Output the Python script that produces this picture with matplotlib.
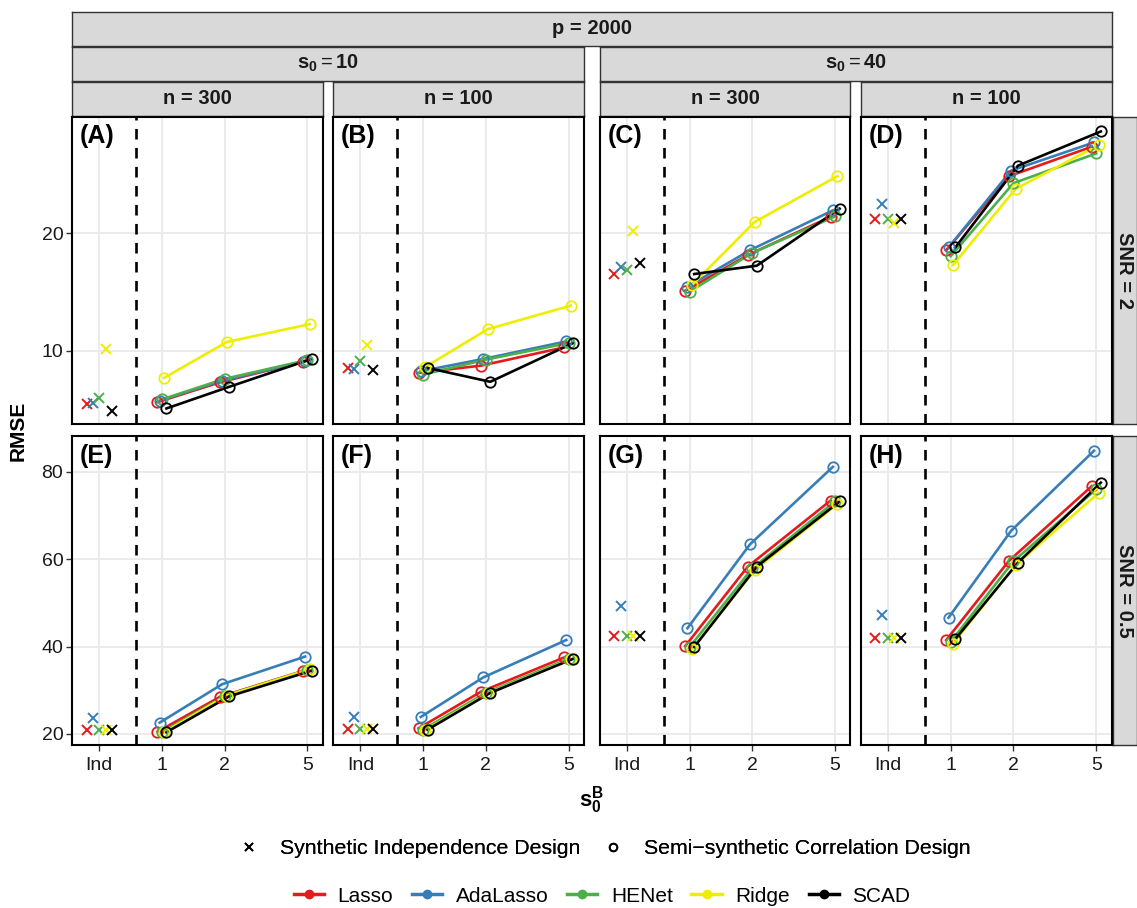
import numpy as np
import matplotlib
matplotlib.use('Agg')
import matplotlib.pyplot as plt
from matplotlib.lines import Line2D
from matplotlib.ticker import NullLocator

plt.rcParams['font.family'] = ['Liberation Sans', 'DejaVu Sans']
plt.rcParams['mathtext.fontset'] = 'custom'
plt.rcParams['mathtext.rm'] = 'Liberation Sans'
plt.rcParams['mathtext.bf'] = 'Liberation Sans:bold'
plt.rcParams['mathtext.it'] = 'Liberation Sans:italic'

# ---------------- data ----------------
methods = ['Lasso', 'AdaLasso', 'HENet', 'Ridge', 'SCAD']
colors = ['#E41A1C', '#377EB8', '#4DAF4A', '#EEEE00', '#000000']
ind_level = 0.5
s0B_levels = [1, 2, 5]
x_tick_labels = ['Ind', '1', '2', '5']
panel_labels = ['(A)', '(B)', '(C)', '(D)', '(E)', '(F)', '(G)', '(H)']
n_labels = ['n = 300', 'n = 100', 'n = 300', 'n = 100']
s0_labels = [r'$\mathbf{s_0} = \mathbf{10}$', r'$\mathbf{s_0} = \mathbf{40}$']
snr_labels = ['SNR = 2', 'SNR = 0.5']
p_label = 'p = 2000'

# Synthetic Independence Design (one value per method, order as `methods`)
ind_A = [5.42, 5.57, 6.00, 10.14, 4.86]
ind_B = [8.53, 8.45, 9.10, 10.48, 8.33]
ind_C = [16.5, 17.15, 16.9, 20.2, 17.5]
ind_D = [21.19, 22.46, 21.19, 20.87, 21.19]
ind_E = [20.9, 23.7, 20.9, 20.9, 20.9]
ind_F = [21.1, 23.96, 21.1, 21.1, 21.1]
ind_G = [42.5, 49.3, 42.5, 42.5, 42.5]
ind_H = [41.9, 47.2, 41.9, 41.9, 41.9]

# Semi-synthetic Correlation Design (per method: values at s0B = 1, 2, 5)
corr_A = [[5.62, 7.31, 9.05], [5.75, 7.45, 9.10], [5.85, 7.60, 9.20],
          [7.69, 10.74, 12.26], [5.08, 6.92, 9.30]]
corr_B = [[8.11, 8.73, 10.28], [8.25, 9.30, 10.79], [7.97, 9.24, 10.65],
          [8.62, 11.84, 13.84], [8.53, 7.35, 10.65]]
corr_C = [[15.1, 18.14, 21.4], [15.45, 18.56, 21.95], [15.03, 18.33, 21.44],
          [15.6, 20.96, 24.86], [16.53, 17.24, 22.09]]
corr_D = [[18.56, 24.86, 27.37], [18.79, 25.34, 27.74], [18.05, 24.27, 26.8],
          [17.29, 23.79, 27.5], [18.79, 25.76, 28.67]]
corr_E = [[20.5, 28.5, 34.4], [22.6, 31.4, 37.7], [20.4, 28.7, 34.6],
          [20.4, 28.8, 34.8], [20.4, 28.6, 34.5]]
corr_F = [[21.3, 29.7, 37.5], [23.9, 32.97, 41.5], [21.0, 29.4, 37.2],
          [20.9, 29.3, 37.1], [21.0, 29.4, 37.2]]
corr_G = [[40.1, 58.3, 73.4], [44.2, 63.4, 81.1], [39.9, 57.9, 73.2],
          [39.4, 57.5, 72.6], [39.9, 58.3, 73.2]]
corr_H = [[41.5, 59.6, 76.7], [46.6, 66.5, 84.8], [41.1, 59.5, 76.0],
          [40.7, 58.7, 75.1], [41.7, 59.2, 77.5]]

ind_all = [ind_A, ind_B, ind_C, ind_D, ind_E, ind_F, ind_G, ind_H]
corr_all = [corr_A, corr_B, corr_C, corr_D, corr_E, corr_F, corr_G, corr_H]

# ---------------- layout ----------------
W, H = 1137, 908
fig = plt.figure(figsize=(W / 100, H / 100), dpi=100)


def box(x0, y0, x1, y1):
    return [x0 / W, 1 - y1 / H, (x1 - x0) / W, (y1 - y0) / H]


col_x = [(72.3, 322.7), (333.3, 584.0), (600.0, 850.5), (861.0, 1111.7)]
row_y = [(116.7, 424.3), (436.0, 745.0)]
row_ylim = [(3.73, 29.93), (17.48, 88.17)]
row_yticks = [[10, 20], [20, 40, 60, 80]]
xlim = (0.3705, 5.93)
vline_x = 0.75
cross_step = 0.07
circle_step = 0.025

STRIP_FC = '#D9D9D9'
STRIP_EC = '#333333'
GRID_C = '#EBEBEB'


def strip(x0, y0, x1, y1, label, rotation=0, size=14.5):
    sa = fig.add_axes(box(x0, y0, x1, y1))
    sa.set_facecolor(STRIP_FC)
    sa.set_xticks([])
    sa.set_yticks([])
    for sp in sa.spines.values():
        sp.set_color(STRIP_EC)
        sp.set_linewidth(1.0)
    sa.text(0.5, 0.5, label, transform=sa.transAxes, ha='center', va='center',
            fontsize=size, fontweight='bold', rotation=rotation, color='#1A1A1A')
    return sa


strip(col_x[0][0], 12, col_x[3][1], 45.7, p_label)
strip(col_x[0][0], 46.7, col_x[1][1], 80.7, s0_labels[0])
strip(col_x[2][0], 46.7, col_x[3][1], 80.7, s0_labels[1])
for c in range(4):
    strip(col_x[c][0], 81.7, col_x[c][1], 116.0, n_labels[c])
for r in range(2):
    strip(1113.3, row_y[r][0], 1136.5, row_y[r][1], snr_labels[r], rotation=-90)

offs = np.arange(-2, 3)
for r in range(2):
    for c in range(4):
        k = r * 4 + c
        ax = fig.add_axes(box(col_x[c][0], row_y[r][0], col_x[c][1], row_y[r][1]))
        ax.set_xscale('log')
        ax.set_xlim(*xlim)
        ax.set_ylim(*row_ylim[r])
        ax.xaxis.set_minor_locator(NullLocator())
        ax.yaxis.set_minor_locator(NullLocator())
        ax.set_xticks([ind_level] + s0B_levels)
        ax.set_yticks(row_yticks[r])
        ax.grid(True, color=GRID_C, linewidth=1.4, zorder=0)
        ax.set_axisbelow(True)
        for sp in ax.spines.values():
            sp.set_color('black')
            sp.set_linewidth(1.5)
            sp.set_zorder(10)
        ax.tick_params(axis='both', length=4, width=1.0, color='#333333',
                       labelsize=14, labelcolor='#1A1A1A')
        ax.tick_params(axis='x', pad=4.5)
        ax.tick_params(axis='y', pad=2.5)
        if r == 1:
            ax.set_xticklabels(x_tick_labels)
        else:
            ax.set_xticklabels([])
            ax.tick_params(axis='x', length=0)
        if c == 0:
            ax.set_yticklabels([str(v) for v in row_yticks[r]])
        else:
            ax.set_yticklabels([])
            ax.tick_params(axis='y', length=0)

        ax.axvline(vline_x, color='black', linewidth=1.9, linestyle=(0, (4, 3.2)), zorder=2)

        ind_vals = ind_all[k]
        corr_vals = corr_all[k]
        for m in range(5):
            xi = ind_level * np.exp(offs[m] * cross_step)
            ax.plot([xi], [ind_vals[m]], marker='x', linestyle='none', color=colors[m],
                    markersize=7, markeredgewidth=1.4, zorder=3)
        for m in range(5):
            xs = np.array(s0B_levels) * np.exp(offs[m] * circle_step)
            ax.plot(xs, corr_vals[m], color=colors[m], linewidth=1.9, zorder=4)
        for m in range(5):
            xs = np.array(s0B_levels) * np.exp(offs[m] * circle_step)
            ax.plot(xs, corr_vals[m], marker='o', linestyle='none', markersize=7.5,
                    markerfacecolor='none', markeredgecolor=colors[m],
                    markeredgewidth=1.3, zorder=5)

        ax.text(0.03, 0.975, panel_labels[k], transform=ax.transAxes, ha='left', va='top',
                fontsize=18, fontweight='bold', color='black', zorder=11)

# axis titles
fig.text(18 / W, 1 - 431 / H, 'RMSE', rotation=90, ha='center', va='center',
         fontsize=15, fontweight='bold')
fig.text(592 / W, 1 - 800 / H, r'$\mathbf{s_0^B}$', ha='center', va='center',
         fontsize=16)

# legends
shape_handles = [
    Line2D([], [], marker='x', linestyle='none', color='black', markersize=6,
           markeredgewidth=1.3),
    Line2D([], [], marker='o', linestyle='none', color='black', markersize=5.5,
           markerfacecolor='none', markeredgewidth=1.3),
]
leg1 = fig.legend(shape_handles, ['Synthetic Independence Design',
                                  'Semi\u2212synthetic Correlation Design'],
                  loc='center', bbox_to_anchor=(602 / W, 1 - 849 / H), ncol=2,
                  frameon=False, fontsize=15.3, handlelength=1.45, handletextpad=0.75,
                  columnspacing=0.8, borderpad=0, borderaxespad=0)
fig.add_artist(leg1)

method_handles = [Line2D([], [], color=colors[m], linewidth=2.5, marker='o',
                         markersize=6) for m in range(5)]
fig.legend(method_handles, methods, loc='center', bbox_to_anchor=(602 / W, 1 - 896 / H),
           ncol=5, frameon=False, fontsize=15, handlelength=1.45, handletextpad=0.65,
           columnspacing=0.9, borderpad=0, borderaxespad=0)

fig.savefig('out.png', dpi=100)
